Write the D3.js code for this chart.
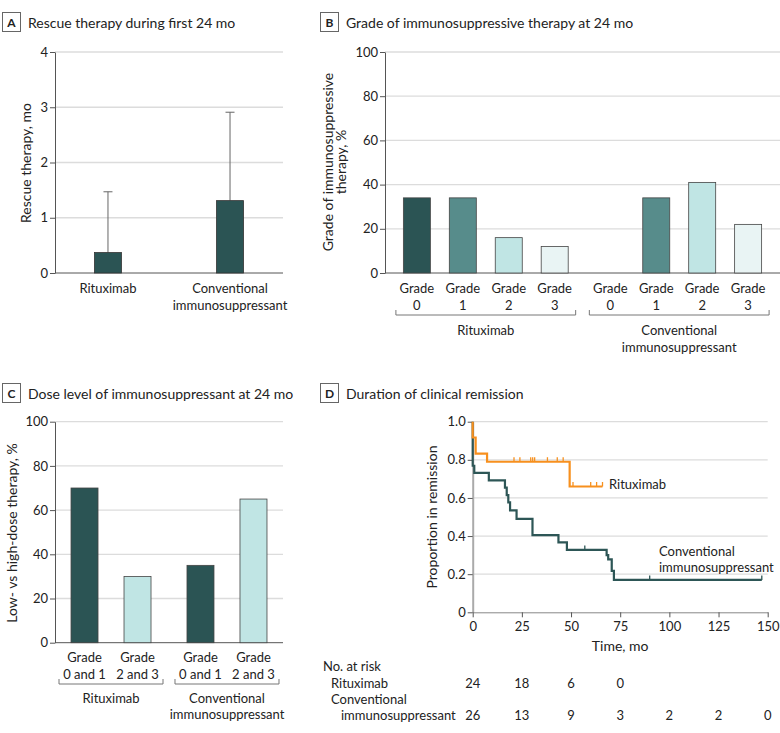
<!DOCTYPE html>
<html><head><meta charset="utf-8">
<script src="https://cdn.jsdelivr.net/npm/d3@7"></script>
<style>
body{margin:0;background:#fff;}
svg{font-family:Lato,"Liberation Sans",sans-serif;}
</style></head>
<body><svg id="c" width="780" height="733"></svg>
<script>
// ---------- DATA ----------
const rescueGroups = ["Rituximab", "Conventional\nimmunosuppressant"];
const rescueMean = [0.37, 1.31];
const rescueUpper = [1.47, 2.91];
const rescueTicks = [0, 1, 2, 3, 4];

const treatGroups = ["Rituximab", "Conventional\nimmunosuppressant"];
const gradeCats = ["Grade\n0", "Grade\n1", "Grade\n2", "Grade\n3"];
const gradeRituximab = [34, 34, 16, 12];
const gradeConventional = [0, 34, 41, 22];
const pctTicks = [0, 20, 40, 60, 80, 100];

const doseCats = ["Grade\n0 and 1", "Grade\n2 and 3"];
const doseRituximab = [70, 30];
const doseConventional = [35, 65];

// Kaplan-Meier steps: [time, proportion]
const kmRituximab = [[0,1.0],[0,0.917],[1.5,0.833],[7.3,0.79],[49.3,0.66]];
const kmRituximabEnd = 66;
const kmRituximabCensor = [[21,0.79],[24,0.79],[29.5,0.79],[30.5,0.79],[31.5,0.79],[38,0.79],[43,0.79],[46,0.79],[51,0.66],[60,0.66],[63,0.66],[66,0.66]];
const kmConventional = [[0,1.0],[0,0.769],[0.8,0.731],[8.2,0.692],[16.4,0.654],[17.3,0.615],[18.1,0.577],[19.0,0.535],[22.3,0.49],[30.4,0.405],[43.6,0.367],[47.9,0.327],[68.1,0.30],[68.9,0.278],[70.7,0.217],[71.8,0.17]];
const kmConventionalEnd = 147;
const kmConventionalCensor = [[57,0.327],[90,0.17],[147,0.17]];
const kmXTicks = [0, 25, 50, 75, 100, 125, 150];
const kmYTicks = [0, 0.2, 0.4, 0.6, 0.8, 1.0];
const riskTimes = [0, 25, 50, 75, 100, 125, 150];
const riskRituximab = [24, 18, 6, 0];
const riskConventional = [26, 13, 9, 3, 2, 2, 0];

// ---------- STYLE ----------
const C_DARK = "#2b5454", C_MID = "#578c8b", C_LIGHT = "#c0e5e4", C_PALE = "#e9f4f4";
const gradeColors = [C_DARK, C_MID, C_LIGHT, C_PALE];
const doseColors = [C_DARK, C_LIGHT];
const ORANGE = "#f7901e", GRID = "#dcdcdc", AXIS = "#555", TXT = "#222";

const svg = d3.select("#c");

function multiText(g, x, y, str, opts) {
  const lines = str.split("\n");
  const t = g.append("text").attr("x", x).attr("y", y)
    .attr("text-anchor", opts.anchor || "middle")
    .attr("font-size", opts.size || 13).attr("fill", TXT);
  lines.forEach((l, i) => t.append("tspan").attr("x", x).attr("dy", i === 0 ? 0 : (opts.lh || 16)).text(l));
  return t;
}
function panelTitle(x, y, letter, title) {
  svg.append("rect").attr("x", x + 0.5).attr("y", y + 0.5).attr("width", 18).attr("height", 19)
    .attr("fill", "#fff").attr("stroke", "#666").attr("stroke-width", 1);
  svg.append("text").attr("x", x + 9.5).attr("y", y + 15).attr("text-anchor", "middle")
    .attr("font-size", 12).attr("font-weight", "bold").attr("fill", TXT).text(letter);
  svg.append("text").attr("x", x + 26).attr("y", y + 15.5).attr("font-size", 14).attr("fill", TXT).text(title);
}
function yAxis(g, y, x0, x1, ticks, fmt) {
  g.selectAll(".grid").data(ticks.filter(d => d !== ticks[0])).enter().append("line")
    .attr("x1", x0).attr("x2", x1).attr("y1", d => y(d)).attr("y2", d => y(d))
    .attr("stroke", GRID).attr("stroke-width", 1.3);
  const ax = g.append("g").attr("transform", `translate(${x0},0)`)
    .call(d3.axisLeft(y).tickValues(ticks).tickSize(5).tickSizeOuter(0).tickFormat(fmt || d3.format("d")));
  ax.select(".domain").attr("stroke", AXIS);
  ax.selectAll(".tick line").attr("stroke", AXIS);
  ax.selectAll(".tick text").attr("font-size", 13).attr("fill", TXT).attr("font-family", "Lato,sans-serif").attr("x", -7);
  g.append("line").attr("x1", x0).attr("x2", x1).attr("y1", y(ticks[0])).attr("y2", y(ticks[0])).attr("stroke", AXIS);
}
function yLabel(x, y, str, lh) {
  const lines = str.split("\n");
  const t = svg.append("text").attr("transform", `translate(${x},${y}) rotate(-90)`)
    .attr("text-anchor", "middle").attr("font-size", 14).attr("fill", TXT);
  lines.forEach((l, i) => t.append("tspan").attr("x", 0).attr("dy", i === 0 ? 0 : (lh || 15)).text(l));
}

// ---------- PANEL A ----------
panelTitle(2, 12, "A", "Rescue therapy during first 24 mo");
{
  const g = svg.append("g");
  const y = d3.scaleLinear().domain([0, 4]).range([273, 52]);
  const x = d3.scalePoint().domain(rescueGroups).range([55, 283]).padding(0.434);
  yAxis(g, y, 55, 283, rescueTicks);
  const bw = 27;
  rescueGroups.forEach((gr, i) => {
    const cx = x(gr);
    g.append("line").attr("x1", cx).attr("x2", cx).attr("y1", y(rescueMean[i])).attr("y2", y(rescueUpper[i])).attr("stroke", "#666");
    g.append("line").attr("x1", cx - 4.5).attr("x2", cx + 4.5).attr("y1", y(rescueUpper[i])).attr("y2", y(rescueUpper[i])).attr("stroke", "#666");
    g.append("rect").attr("x", cx - bw / 2).attr("width", bw).attr("y", y(rescueMean[i])).attr("height", y(0) - y(rescueMean[i]))
      .attr("fill", C_DARK).attr("stroke", "#333").attr("stroke-width", 0.8);
    multiText(g, cx, 293, gr, { size: 13, lh: 17 });
  });
  yLabel(31, 163, "Rescue therapy, mo");
}

// ---------- PANEL B ----------
panelTitle(320, 12, "B", "Grade of immunosuppressive therapy at 24 mo");
{
  const g = svg.append("g");
  const y = d3.scaleLinear().domain([0, 100]).range([273, 52]);
  const xg = d3.scaleBand().domain(treatGroups).range([385, 780]).paddingInner(0.05).paddingOuter(0.046);
  const xi = d3.scaleBand().domain(gradeCats).range([0, xg.bandwidth()]);
  yAxis(g, y, 385, 780, pctTicks);
  const series = [gradeRituximab, gradeConventional];
  const bw = 27;
  treatGroups.forEach((gr, gi) => {
    const x0 = xg(gr);
    gradeCats.forEach((c, ci) => {
      const cx = x0 + xi(c) + xi.bandwidth() / 2;
      const v = series[gi][ci];
      g.append("rect").attr("x", cx - bw / 2).attr("width", bw).attr("y", y(v)).attr("height", y(0) - y(v))
        .attr("fill", gradeColors[ci]).attr("stroke", "#444").attr("stroke-width", 0.8);
      multiText(g, cx, 293, c, { size: 13, lh: 16.5 });
    });
    const x1 = x0 + xg.bandwidth();
    g.append("path").attr("d", `M${x0 + 2},310V315H${x1 - 2}V310`).attr("fill", "none").attr("stroke", "#777");
    multiText(g, x0 + xg.bandwidth() / 2, 335, gr, { size: 13, lh: 16.5 });
  });
  yLabel(333, 162, "Grade of immunosuppressive\ntherapy, %", 13);
}

// ---------- PANEL C ----------
panelTitle(2, 383, "C", "Dose level of immunosuppressant at 24 mo");
{
  const g = svg.append("g");
  const y = d3.scaleLinear().domain([0, 100]).range([642.7, 421.7]);
  const xg = d3.scaleBand().domain(treatGroups).range([55, 283]).paddingInner(0.086).paddingOuter(0.026);
  const xi = d3.scaleBand().domain(doseCats).range([0, xg.bandwidth()]);
  yAxis(g, y, 55, 283, pctTicks);
  const series = [doseRituximab, doseConventional];
  const bw = 27;
  treatGroups.forEach((gr, gi) => {
    const x0 = xg(gr);
    doseCats.forEach((c, ci) => {
      const cx = x0 + xi(c) + xi.bandwidth() / 2;
      const v = series[gi][ci];
      g.append("rect").attr("x", cx - bw / 2).attr("width", bw).attr("y", y(v)).attr("height", y(0) - y(v))
        .attr("fill", doseColors[ci]).attr("stroke", "#444").attr("stroke-width", 0.8);
      multiText(g, cx, 662, c, { size: 13, lh: 17 });
    });
    const x1 = x0 + xg.bandwidth();
    g.append("path").attr("d", `M${x0 + 1},679V684H${x1 - 1}V679`).attr("fill", "none").attr("stroke", "#777");
    multiText(g, x0 + xg.bandwidth() / 2, 703, gr, { size: 13, lh: 16 });
  });
  yLabel(17, 533, "Low- vs high-dose therapy, %");
}

// ---------- PANEL D ----------
panelTitle(320, 383, "D", "Duration of clinical remission");
{
  const g = svg.append("g");
  const x = d3.scaleLinear().domain([0, 150]).range([472.7, 767.7]);
  const y = d3.scaleLinear().domain([0, 1]).range([612.3, 421.7]);
  g.selectAll(".grid").data(kmYTicks.filter(d => d > 0)).enter().append("line")
    .attr("x1", x(0)).attr("x2", x(150)).attr("y1", d => y(d)).attr("y2", d => y(d))
    .attr("stroke", GRID).attr("stroke-width", 1.3);
  const ya = g.append("g").attr("transform", `translate(${x(0)},0)`)
    .call(d3.axisLeft(y).tickValues(kmYTicks).tickSize(5).tickSizeOuter(0).tickFormat(d => d === 0 ? "0" : d3.format(".1f")(d)));
  ya.select(".domain").attr("stroke", "#aaa").attr("stroke-width", 2);
  ya.selectAll(".tick line").attr("stroke", AXIS);
  ya.selectAll(".tick text").attr("font-size", 13).attr("fill", TXT).attr("font-family", "Lato,sans-serif").attr("x", -7);
  const xa = g.append("g").attr("transform", `translate(0,${y(0)})`)
    .call(d3.axisBottom(x).tickValues(kmXTicks).tickSize(5).tickSizeOuter(0));
  xa.select(".domain").attr("stroke", "#888");
  xa.selectAll(".tick line").attr("stroke", AXIS);
  xa.selectAll(".tick text").attr("font-size", 13).attr("fill", TXT).attr("font-family", "Lato,sans-serif").attr("y", 9);
  g.append("text").attr("x", (x(0) + x(150)) / 2).attr("y", 651).attr("text-anchor", "middle").attr("font-size", 14).attr("fill", TXT).text("Time, mo");
  yLabel(437, 517, "Proportion in remission");

  const line = d3.line().x(d => x(d[0])).y(d => y(d[1])).curve(d3.curveStepAfter);
  function km(steps, end, censor, color) {
    const pts = steps.concat([[end, steps[steps.length - 1][1]]]);
    g.append("path").attr("d", line(pts)).attr("fill", "none").attr("stroke", color).attr("stroke-width", 2.2);
    g.selectAll(null).data(censor).enter().append("line")
      .attr("x1", d => x(d[0])).attr("x2", d => x(d[0])).attr("y1", d => y(d[1])).attr("y2", d => y(d[1]) - 4.5)
      .attr("stroke", color).attr("stroke-width", 1.3);
  }
  km(kmConventional, kmConventionalEnd, kmConventionalCensor, "#2d5656");
  km(kmRituximab, kmRituximabEnd, kmRituximabCensor, ORANGE);
  g.append("text").attr("x", 609).attr("y", 489).attr("font-size", 13).attr("fill", TXT).text("Rituximab");
  multiText(g, 659, 556, "Conventional\nimmunosuppressant", { anchor: "start", size: 13, lh: 15.5 });

  // number at risk
  svg.append("text").attr("x", 323).attr("y", 671).attr("font-size", 13).attr("fill", TXT).text("No. at risk");
  svg.append("text").attr("x", 331).attr("y", 688).attr("font-size", 13).attr("fill", TXT).text("Rituximab");
  svg.append("text").attr("x", 331).attr("y", 704).attr("font-size", 13).attr("fill", TXT).text("Conventional");
  svg.append("text").attr("x", 341).attr("y", 720).attr("font-size", 13).attr("fill", TXT).text("immunosuppressant");
  riskRituximab.forEach((v, i) => g.append("text").attr("x", x(riskTimes[i])).attr("y", 688).attr("text-anchor", "middle").attr("font-size", 13).attr("fill", TXT).text(v));
  riskConventional.forEach((v, i) => g.append("text").attr("x", x(riskTimes[i])).attr("y", 720).attr("text-anchor", "middle").attr("font-size", 13).attr("fill", TXT).text(v));
}
</script></body></html>
